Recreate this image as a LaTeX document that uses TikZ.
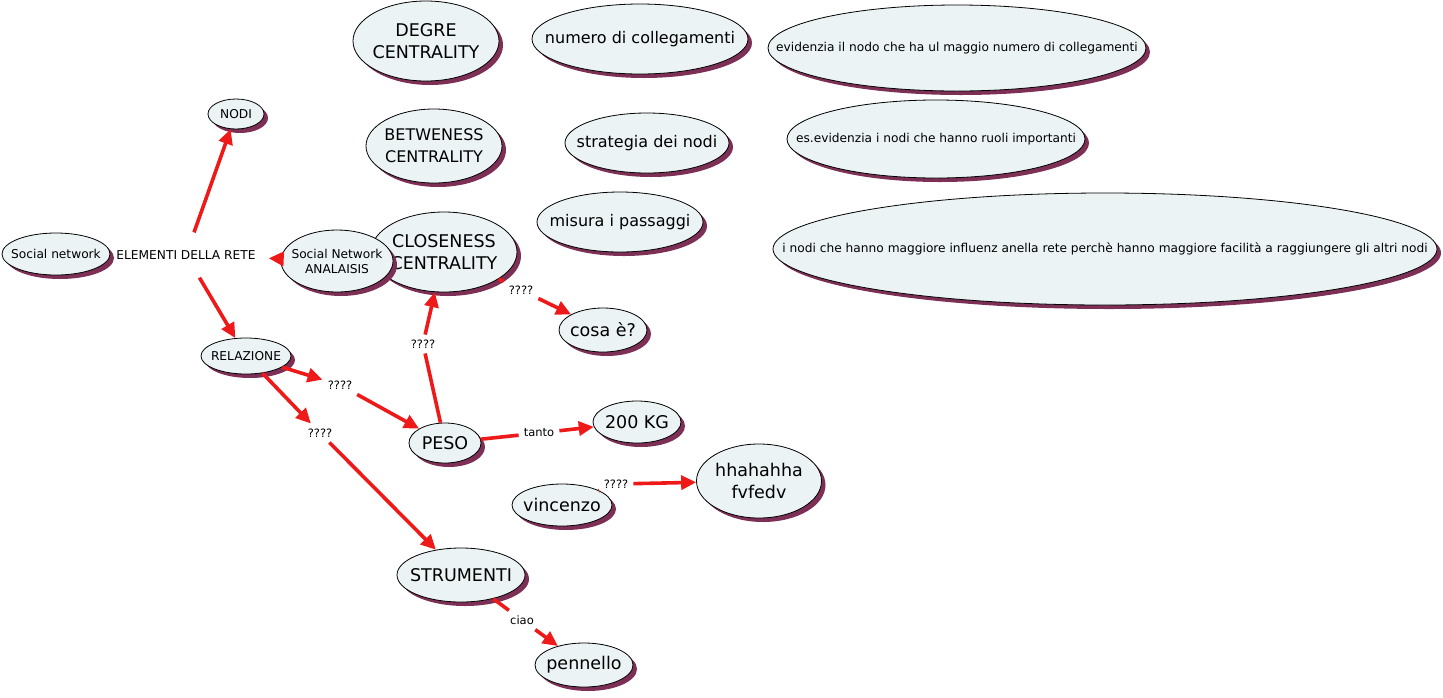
\documentclass[tikz,border=0pt]{standalone}
\usepackage{fontspec}
\usepackage{graphicx}
\setmainfont{DejaVu Sans}
\usetikzlibrary{shapes.geometric,arrows.meta,shadows}
\definecolor{fillc}{HTML}{EBF3F5}
\definecolor{shadc}{HTML}{7D2F55}
\definecolor{redc}{HTML}{EE1A1A}
% name, position, font style, width, height, text
\newcommand{\cmapnode}[6]{%
  \node[concept, minimum width=#4, minimum height=#5] (#1) at (#2) {};
  \node[#3, align=center, inner sep=0pt] (#1-t) at (#2) {#6};}
\begin{document}
\begin{tikzpicture}[x=1pt,y=-1pt,
  concept/.style={ellipse, draw=black, line width=0.8pt, fill=fillc, inner sep=0pt,
    drop shadow={shadow xshift=4pt, shadow yshift=-4pt, fill=shadc, opacity=1}},
  big/.style={font=\fontsize{17.5}{22}\selectfont},
  med/.style={font=\fontsize{16}{22}\selectfont},
  sml/.style={font=\fontsize{12.2}{15}\selectfont},
  tiny/.style={font=\fontsize{12.2}{14}\selectfont},
  lbl/.style={font=\fontsize{11.5}{14}\selectfont, inner sep=5pt},
  conn/.style={draw=redc, line width=3.6pt},
  arr/.style={conn, -{Triangle[length=15pt,width=14pt]}}
]
\useasboundingbox (0,0) rectangle (1443,697);

% concepts
\cmapnode{sn}{56,254}{sml}{108pt}{42pt}{Social network}
\node[sml, inner xsep=13pt, inner ysep=18pt] (elem) at (186,255) {ELEMENTI DELLA RETE};
\cmapnode{nodi}{236,114}{sml}{56pt}{30pt}{NODI}
\cmapnode{rel}{246,356}{sml}{90pt}{36pt}{RELAZIONE}
\cmapnode{degre}{426,41}{big}{146pt}{80pt}{DEGRE\\CENTRALITY}
\cmapnode{betw}{434,146}{med}{136pt}{74pt}{BETWENESS\\CENTRALITY}
\cmapnode{close}{444,252}{big}{146pt}{80pt}{CLOSENESS\\CENTRALITY}
\cmapnode{sna}{337,261}{sml}{112pt}{62pt}{Social Network\\ANALAISIS}
\cmapnode{numero}{640,39}{med}{216pt}{70pt}{numero di collegamenti}
\cmapnode{strat}{647,143}{med}{164pt}{60pt}{strategia dei nodi}
\cmapnode{misura}{620,222}{med}{166pt}{60pt}{misura i passaggi}
\cmapnode{evid}{957,48}{tiny}{378pt}{86pt}{evidenzia il nodo che ha ul maggio numero di collegamenti}
\cmapnode{esev}{936,139}{tiny}{298pt}{78pt}{es.evidenzia i nodi che hanno ruoli importanti}
\cmapnode{inodi}{1105,249}{tiny}{664pt}{112pt}{i nodi che hanno maggiore influenz anella rete perchè hanno maggiore facilità a raggiungere gli altri nodi}
\cmapnode{cosa}{603,330}{big}{88pt}{44pt}{cosa è?}
\cmapnode{peso}{445,443}{big}{72pt}{40pt}{PESO}
\cmapnode{kg}{637,422}{big}{88pt}{42pt}{200 KG}
\cmapnode{vinc}{562,505}{big}{100pt}{42pt}{vincenzo}
\cmapnode{hha}{759,481}{big}{125pt}{74pt}{hhahahha\\fvfedv}
\cmapnode{strum}{461,575}{big}{128pt}{54pt}{STRUMENTI}
\cmapnode{penn}{584,665}{big}{98pt}{44pt}{pennello}

% linking phrases
\node[lbl] (q1) at (340,385) {????};
\node[lbl] (q2) at (320,433) {????};
\node[lbl] (q3) at (423,344) {????};
\node[lbl] (q4) at (521,290) {????};
\node[lbl] (tanto) at (539,433) {tanto};
\node[lbl] (q5) at (616,484) {????};
\node[lbl] (ciao) at (522,620) {ciao};

% connectors
\draw[arr] (elem) -- (nodi);
\draw[arr] (elem) -- (rel);
\draw[arr] (sna) -- (elem);
\draw[arr] (rel) -- (q1);
\draw[arr] (q1) -- (peso);
\draw[arr] (rel) -- (q2);
\draw[arr] (q2) -- (strum);
\draw[conn] (peso) -- (q3);
\draw[arr] (q3) -- (close);
\draw[conn] (close) -- (q4);
\draw[arr] (q4) -- (cosa);
\draw[conn] (peso) -- (tanto);
\draw[arr] (tanto) -- (kg);
\draw[conn] (vinc) -- (q5);
\draw[arr] (q5) -- (hha);
\draw[conn] (strum) -- (ciao);
\draw[arr] (ciao) -- (penn);
\end{tikzpicture}
\end{document}
